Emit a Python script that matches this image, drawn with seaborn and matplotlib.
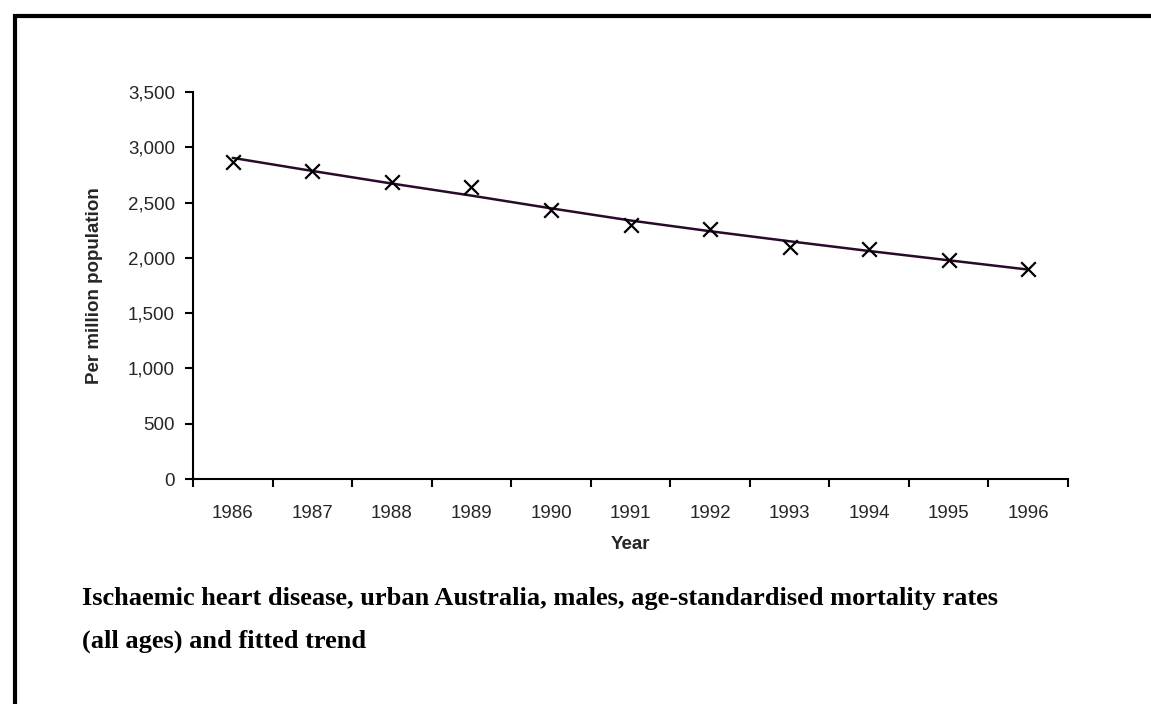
import matplotlib
matplotlib.use("Agg")
import matplotlib.pyplot as plt
from matplotlib.patches import Rectangle
from matplotlib.ticker import FuncFormatter
import numpy as np
import pandas as pd
import seaborn as sns

# data
years = [1986, 1987, 1988, 1989, 1990, 1991, 1992, 1993, 1994, 1995, 1996]
rates = [2864, 2782, 2682, 2643, 2434, 2298, 2258, 2101, 2076, 1979, 1900]
trend = [2904, 2786, 2672, 2563, 2448, 2338, 2241, 2150, 2062, 1978, 1894]

caption = ("Ischaemic heart disease, urban Australia, males, age-standardised mortality rates\n"
           "(all ages) and fitted trend")

sns.set_style("ticks")
plt.rcParams['font.family'] = ['Liberation Sans', 'DejaVu Sans']

df = pd.DataFrame({"Year": years, "Rate": rates, "Trend": trend})

fig = plt.figure(figsize=(11.51, 7.04), dpi=100)
ax = fig.add_axes([193 / 1151, 1 - 479 / 704, 875 / 1151, 387 / 704])

sns.lineplot(data=df, x="Year", y="Trend", ax=ax, color="#2a0a2a", linewidth=1.8)
sns.scatterplot(data=df, x="Year", y="Rate", ax=ax, marker="x", color="black",
                s=110, linewidth=1.6, zorder=3)

ax.set_xlim(years[0] - 0.5, years[-1] + 0.5)
ax.set_ylim(0, 3500)
ax.set_yticks(np.arange(0, 3501, 500))
ax.yaxis.set_major_formatter(FuncFormatter(lambda v, p: f"{int(v):,}"))

# category style axis: labels in the middle, ticks on the boundaries
ax.set_xticks(years)
ax.set_xticks(np.arange(years[0] - 0.5, years[-1] + 1, 1), minor=True)
ax.tick_params(axis="x", which="major", length=0, pad=19, labelsize=13.5)
ax.tick_params(axis="x", which="minor", length=6, width=1.5, color="black")
ax.tick_params(axis="y", length=6, width=1.5, labelsize=13.5, pad=7, color="black")

for s in ["top", "right"]:
    ax.spines[s].set_visible(False)
for s in ["left", "bottom"]:
    ax.spines[s].set_linewidth(1.5)
    ax.spines[s].set_color("black")

ax.set_xlabel("Year", fontsize=13.5, fontweight="bold", labelpad=10)
ax.set_ylabel("Per million population", fontsize=13.5, fontweight="bold", labelpad=18)

fig.text(82 / 1151, 1 - 587 / 704, caption, fontsize=19, fontweight="bold",
         family="Liberation Serif", va="top", ha="left", linespacing=2.1,
         color="black")

fig.patches.append(Rectangle((15 / 1151, -0.05), 1.1, 1 - 16 / 704 + 0.05,
                             transform=fig.transFigure, fill=False,
                             edgecolor="black", linewidth=3))

fig.savefig("out.png", dpi=100)
